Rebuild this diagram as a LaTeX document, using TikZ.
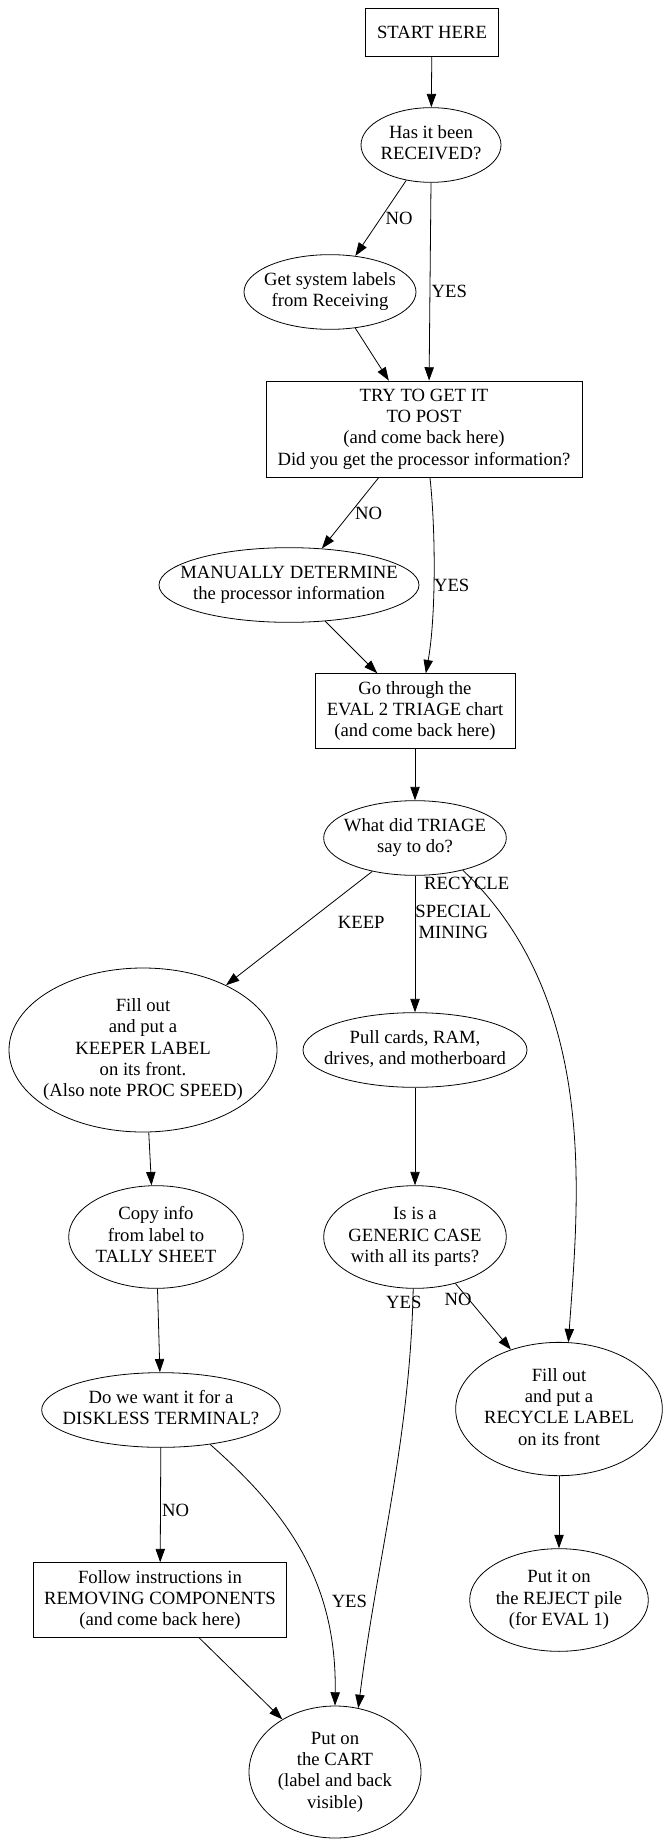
\documentclass[tikz,border=0pt]{standalone}
\usepackage{fontspec}
\setmainfont{Liberation Serif}
\usepackage{tikz}
\usetikzlibrary{shapes.geometric, arrows.meta, calc}
\tikzstyle{block} = [rectangle, draw=black, line width=0.6pt, inner sep=0pt, align=center]
\tikzstyle{oval} = [ellipse, draw=black, line width=0.6pt, inner sep=0pt]
\tikzstyle{arrow} = [line width=0.6pt, -{Triangle[length=10pt, width=7pt]}]
% zero width text, so the ellipse keeps the given size
\newcommand{\ovaltext}[1]{\makebox[0pt]{\begin{tabular}{@{}c@{}}#1\end{tabular}}}

\begin{document}
\begin{tikzpicture}[x=0.75pt, y=-0.75pt, font=\fontsize{14}{16}\selectfont]
	\useasboundingbox (0,0) rectangle (671,1847);
	\node (Start) [block, minimum width=100pt, minimum height=36pt] at (432,32) {START HERE};
	\node (Received) [oval, minimum width=105pt, minimum height=56pt] at (431,145) {\ovaltext{Has it been\\RECEIVED?}};
	\node (GetLabels) [oval, minimum width=129pt, minimum height=56pt] at (330,292) {\ovaltext{Get system labels\\from Receiving}};
	\node (TryPost) [block, minimum width=237pt, minimum height=72pt] at (424,429) {TRY TO GET IT\\TO POST\\(and come back here)\\Did you get the processor information?};
	\node (ManualProc) [oval, minimum width=195pt, minimum height=56pt] at (289,585) {\ovaltext{MANUALLY DETERMINE\\the processor information}};
	\node (EvalTriage) [block, minimum width=150pt, minimum height=56pt] at (415,711) {Go through the\\EVAL 2 TRIAGE chart\\(and come back here)};
	\node (TriageSay) [oval, minimum width=137pt, minimum height=56pt] at (415,838) {\ovaltext{What did TRIAGE\\say to do?}};
	\node (KeeperLabel) [oval, minimum width=201pt, minimum height=123pt] at (143,1050) {\ovaltext{Fill out\\and put a\\KEEPER LABEL\\on its front.\\(Also note PROC SPEED)}};
	\node (PullParts) [oval, minimum width=168pt, minimum height=56pt] at (415,1050) {\ovaltext{Pull cards, RAM,\\drives, and motherboard}};
	\node (CopyInfo) [oval, minimum width=131pt, minimum height=77pt] at (156,1237) {\ovaltext{Copy info\\from label to\\TALLY SHEET}};
	\node (GenericCase) [oval, minimum width=137pt, minimum height=77pt] at (415,1237) {\ovaltext{Is is a\\GENERIC CASE\\with all its parts?}};
	\node (Diskless) [oval, minimum width=179pt, minimum height=56pt] at (161,1410) {\ovaltext{Do we want it for a\\DISKLESS TERMINAL?}};
	\node (RecycleLabel) [oval, minimum width=155pt, minimum height=100pt] at (559,1409) {\ovaltext{Fill out\\and put a\\RECYCLE LABEL\\on its front}};
	\node (RemoveComp) [block, minimum width=190pt, minimum height=56pt] at (160,1600) {Follow instructions in\\REMOVING COMPONENTS\\(and come back here)};
	\node (RejectPile) [oval, minimum width=134pt, minimum height=77pt] at (559,1600) {\ovaltext{Put it on\\the REJECT pile\\(for EVAL 1)}};
	\node (Cart) [oval, minimum width=129pt, minimum height=99pt] at (335,1772) {\ovaltext{Put on\\the CART\\(label and back\\visible)}};
	\draw [arrow] (Start) -- (Received);
	\draw [arrow] (Received.235) -- node[right]{NO} (GetLabels.55);
	\draw [arrow] (Received.south) -- node[pos=.55, right, inner sep=1pt]{YES} (TryPost.84);
	\draw [arrow] (GetLabels.305) -- (TryPost.126);
	\draw [arrow] (TryPost.227) -- node[right]{NO} (ManualProc.48);
	\draw [arrow] (TryPost.277) .. controls +(6,55) and +(10,-55) .. node[pos=.55, right, inner sep=0pt]{YES} (EvalTriage.74);
	\draw [arrow] (ManualProc.315) -- (EvalTriage.135);
	\draw [arrow] (EvalTriage) -- (TriageSay);
	\draw [arrow] (TriageSay.218) -- node[pos=.45, right=20pt]{KEEP} (KeeperLabel.38);
	\draw [arrow] (TriageSay) -- node[pos=.34, right, inner sep=0pt, align=center]{SPECIAL\\MINING} (PullParts);
	\draw [arrow] (TriageSay.326) .. controls +(137,130) and +(10,-142) .. node[pos=0, xshift=3pt, yshift=-10pt]{RECYCLE} (RecycleLabel.82);
	\draw [arrow] (KeeperLabel.274) -- (CopyInfo.95);
	\draw [arrow] (PullParts) -- (GenericCase);
	\draw [arrow] (GenericCase.268) .. controls +(-3,150) and +(19,-150) .. node[pos=0, xshift=-7pt, yshift=-10.5pt]{YES} (Cart.70);
	\draw [arrow] (GenericCase.311) -- node[pos=0, xshift=2pt, yshift=-12pt]{NO} (RecycleLabel.129);
	\draw [arrow] (CopyInfo) -- (Diskless);
	\draw [arrow] (Diskless) -- node[pos=.55, right, inner sep=1pt]{NO} (RemoveComp);
	\draw [arrow] (Diskless.325) .. controls +(76,67) and +(2,-125) .. node[pos=.68, right=4pt]{YES} (Cart.north);
	\draw [arrow] (RemoveComp.316) -- (Cart.135);
	\draw [arrow] (RecycleLabel) -- (RejectPile);
\end{tikzpicture}
\end{document}
